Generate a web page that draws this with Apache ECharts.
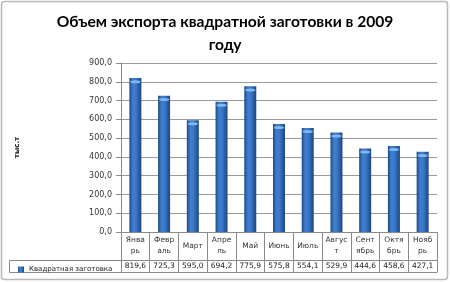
<!DOCTYPE html>
<html><head><meta charset="utf-8">
<script src="https://cdn.jsdelivr.net/npm/echarts@6/dist/echarts.min.js"></script>
<style>html,body{margin:0;padding:0;background:#fff}#c{width:450px;height:282px}</style>
</head><body><div id="c"></div>
<script>
const titleText = 'Объем экспорта квадратной заготовки в 2009\nгоду';
const seriesName = 'Квадратная заготовка';
const yAxisName = 'тыс.т';
const categories = ['Январь','Февраль','Март','Апрель','Май','Июнь','Июль','Август','Сентябрь','Октябрь','Ноябрь'];
const categoryLabels = ['Янва\nрь','Февр\nаль','Март','Апре\nль','Май','Июнь','Июль','Авгус\nт','Сент\nябрь','Октя\nбрь','Нояб\nрь'];
const values = [819.6, 725.3, 595.0, 694.2, 775.9, 575.8, 554.1, 529.9, 444.6, 458.6, 427.1];
const yTicks = [0, 100, 200, 300, 400, 500, 600, 700, 800, 900];

const fmt = v => Number(v).toFixed(1).replace('.', ',');
const FONT = 'DejaVu Sans';
const chart = echarts.init(document.getElementById('c'), null, {renderer: 'canvas'});
const barGrad = new echarts.graphic.LinearGradient(0, 0, 1, 0, [
  {offset: 0, color: '#1d4a86'},
  {offset: 0.3, color: '#3f7fd0'},
  {offset: 0.55, color: '#3a78c8'},
  {offset: 1, color: '#1c4682'}
]);
chart.setOption({
  animation: false,
  backgroundColor: '#fff',
  title: {
    text: titleText, left: 'center', top: 5,
    textStyle: {fontFamily: 'Lato', fontWeight: 'bold', fontSize: 15.6, lineHeight: 23, color: '#000'}
  },
  legend: {
    data: [{name: seriesName, icon: 'rect'}],
    left: 13, top: 261, itemWidth: 6, itemHeight: 6, itemGap: 3,
    textStyle: {fontFamily: FONT, fontSize: 7, color: '#222'}
  },
  grid: {left: 121, top: 63, width: 316, height: 169, containLabel: false},
  yAxis: {
    type: 'value', min: yTicks[0], max: yTicks[yTicks.length - 1], interval: 100,
    name: yAxisName, nameLocation: 'middle', nameRotate: 90, nameGap: 100,
    nameTextStyle: {fontFamily: FONT, fontWeight: 'bold', fontSize: 7, color: '#111'},
    axisLine: {show: true, lineStyle: {color: '#8a8a8a'}},
    axisTick: {show: true, length: 5, lineStyle: {color: '#8a8a8a'}},
    axisLabel: {formatter: fmt, fontFamily: FONT, fontSize: 8, color: '#333', margin: 9},
    splitLine: {lineStyle: {color: '#9a9a9a'}}
  },
  xAxis: [{
    type: 'category', data: categories, boundaryGap: true, position: 'bottom',
    axisLine: {show: true, lineStyle: {color: '#8a8a8a'}},
    axisTick: {show: true, interval: 0, length: 40, lineStyle: {color: '#8a8a8a'}},
    axisLabel: {
      interval: 0, margin: 14, verticalAlign: 'middle',
      formatter: (v, i) => categoryLabels[i],
      fontFamily: FONT, fontSize: 7.5, lineHeight: 11, color: '#333'
    }
  }, {
    type: 'category', data: categories, boundaryGap: true, position: 'bottom', offset: 28,
    axisLine: {show: true, lineStyle: {color: '#8a8a8a'}},
    axisTick: {show: false},
    axisLabel: {
      interval: 0, margin: 6, verticalAlign: 'middle',
      formatter: (v, i) => fmt(values[i]),
      fontFamily: FONT, fontSize: 7.5, color: '#222'
    }
  }, {
    type: 'category', data: categories, boundaryGap: true, position: 'bottom', offset: 40,
    axisLine: {show: true, lineStyle: {color: '#8a8a8a'}},
    axisTick: {show: false}, axisLabel: {show: false}
  }],
  series: [{
    name: seriesName, type: 'bar', data: values, barWidth: 12, xAxisIndex: 0,
    itemStyle: {color: barGrad}, z: 2
  }, {
    type: 'pictorialBar', data: values, xAxisIndex: 0, symbol: 'circle',
    symbolSize: [10, 3], symbolPosition: 'end', symbolOffset: [0, '70%'],
    itemStyle: {color: '#7db8ee'}, z: 3, silent: true, legendHoverLink: false
  }],
  graphic: [
    {type: 'rect', shape: {x: 1.5, y: 1.5, width: 446, height: 278, r: 3}, style: {fill: 'none', stroke: '#b8b8b8', lineWidth: 1.5}, z: -1},
    {type: 'polyline', shape: {points: [[121, 260.5], [9.5, 260.5], [9.5, 272.5], [121, 272.5]]}, style: {stroke: '#8a8a8a', fill: 'none', lineWidth: 1}}
  ]
});
</script></body></html>
